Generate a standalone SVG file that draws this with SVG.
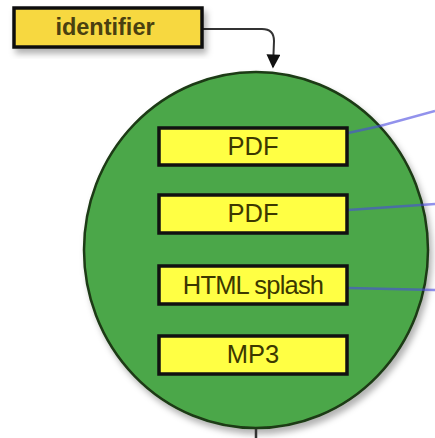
<svg xmlns="http://www.w3.org/2000/svg" width="435" height="438" viewBox="0 0 435 438">
<defs>
<filter id="sh" x="-20%" y="-20%" width="150%" height="150%">
<feDropShadow dx="3" dy="5" stdDeviation="3" flood-color="#000" flood-opacity="0.3"/>
</filter>
<marker id="arr" viewBox="0 0 10 10" refX="9" refY="5" markerWidth="7.5" markerHeight="7" orient="auto" markerUnits="strokeWidth">
<path d="M0,0 L10,5 L0,10 z" fill="#111"/>
</marker>
<style>
.box{fill:#ffff44;stroke:#111;stroke-width:3.5}
.lbl{font-family:"Liberation Sans",Arial,sans-serif;font-size:25.5px;fill:#3c3800;text-anchor:middle}
.link{stroke:#4a4ae0;stroke-opacity:0.6;stroke-width:2.5;fill:none}
</style>
</defs>
<rect width="435" height="438" fill="#fff"/>
<g id="circle">
<ellipse cx="256" cy="250" rx="172" ry="178" fill="#4ca748" stroke="#1d3a14" stroke-width="2.5" filter="url(#sh)"/>
</g>
<g id="connectors">
<path d="M203,29 L262,29 Q274,29 274,41 L273,67" stroke="#333" stroke-width="2" fill="none" marker-end="url(#arr)"/>
<path class="link" d="M348,133 L380,126 L435,111"/>
<path class="link" d="M348,210 L435,204"/>
<path class="link" d="M348,288 L435,290"/>
<path d="M256,429 L256,438" stroke="#333" stroke-width="2.5"/>
</g>
<g id="identifier">
<rect x="14" y="8" width="188" height="39" fill="#f7d840" stroke="#111" stroke-width="3.5" filter="url(#sh)"/>
<text x="105" y="35" font-family="Liberation Sans,Arial,sans-serif" font-weight="bold" font-size="23.5" fill="#4a4010" text-anchor="middle">identifier</text>
</g>
<g id="pdf1">
<rect class="box" x="159" y="128" width="188" height="37"/>
<text class="lbl" x="253" y="155">PDF</text>
</g>
<g id="pdf2">
<rect class="box" x="159" y="195" width="188" height="38"/>
<text class="lbl" x="253" y="222">PDF</text>
</g>
<g id="html">
<rect class="box" x="159" y="266" width="188" height="38"/>
<text class="lbl" x="253" y="294" letter-spacing="-0.8">HTML splash</text>
</g>
<g id="mp3">
<rect class="box" x="159" y="336" width="188" height="38"/>
<text class="lbl" x="253" y="363">MP3</text>
</g>
</svg>
